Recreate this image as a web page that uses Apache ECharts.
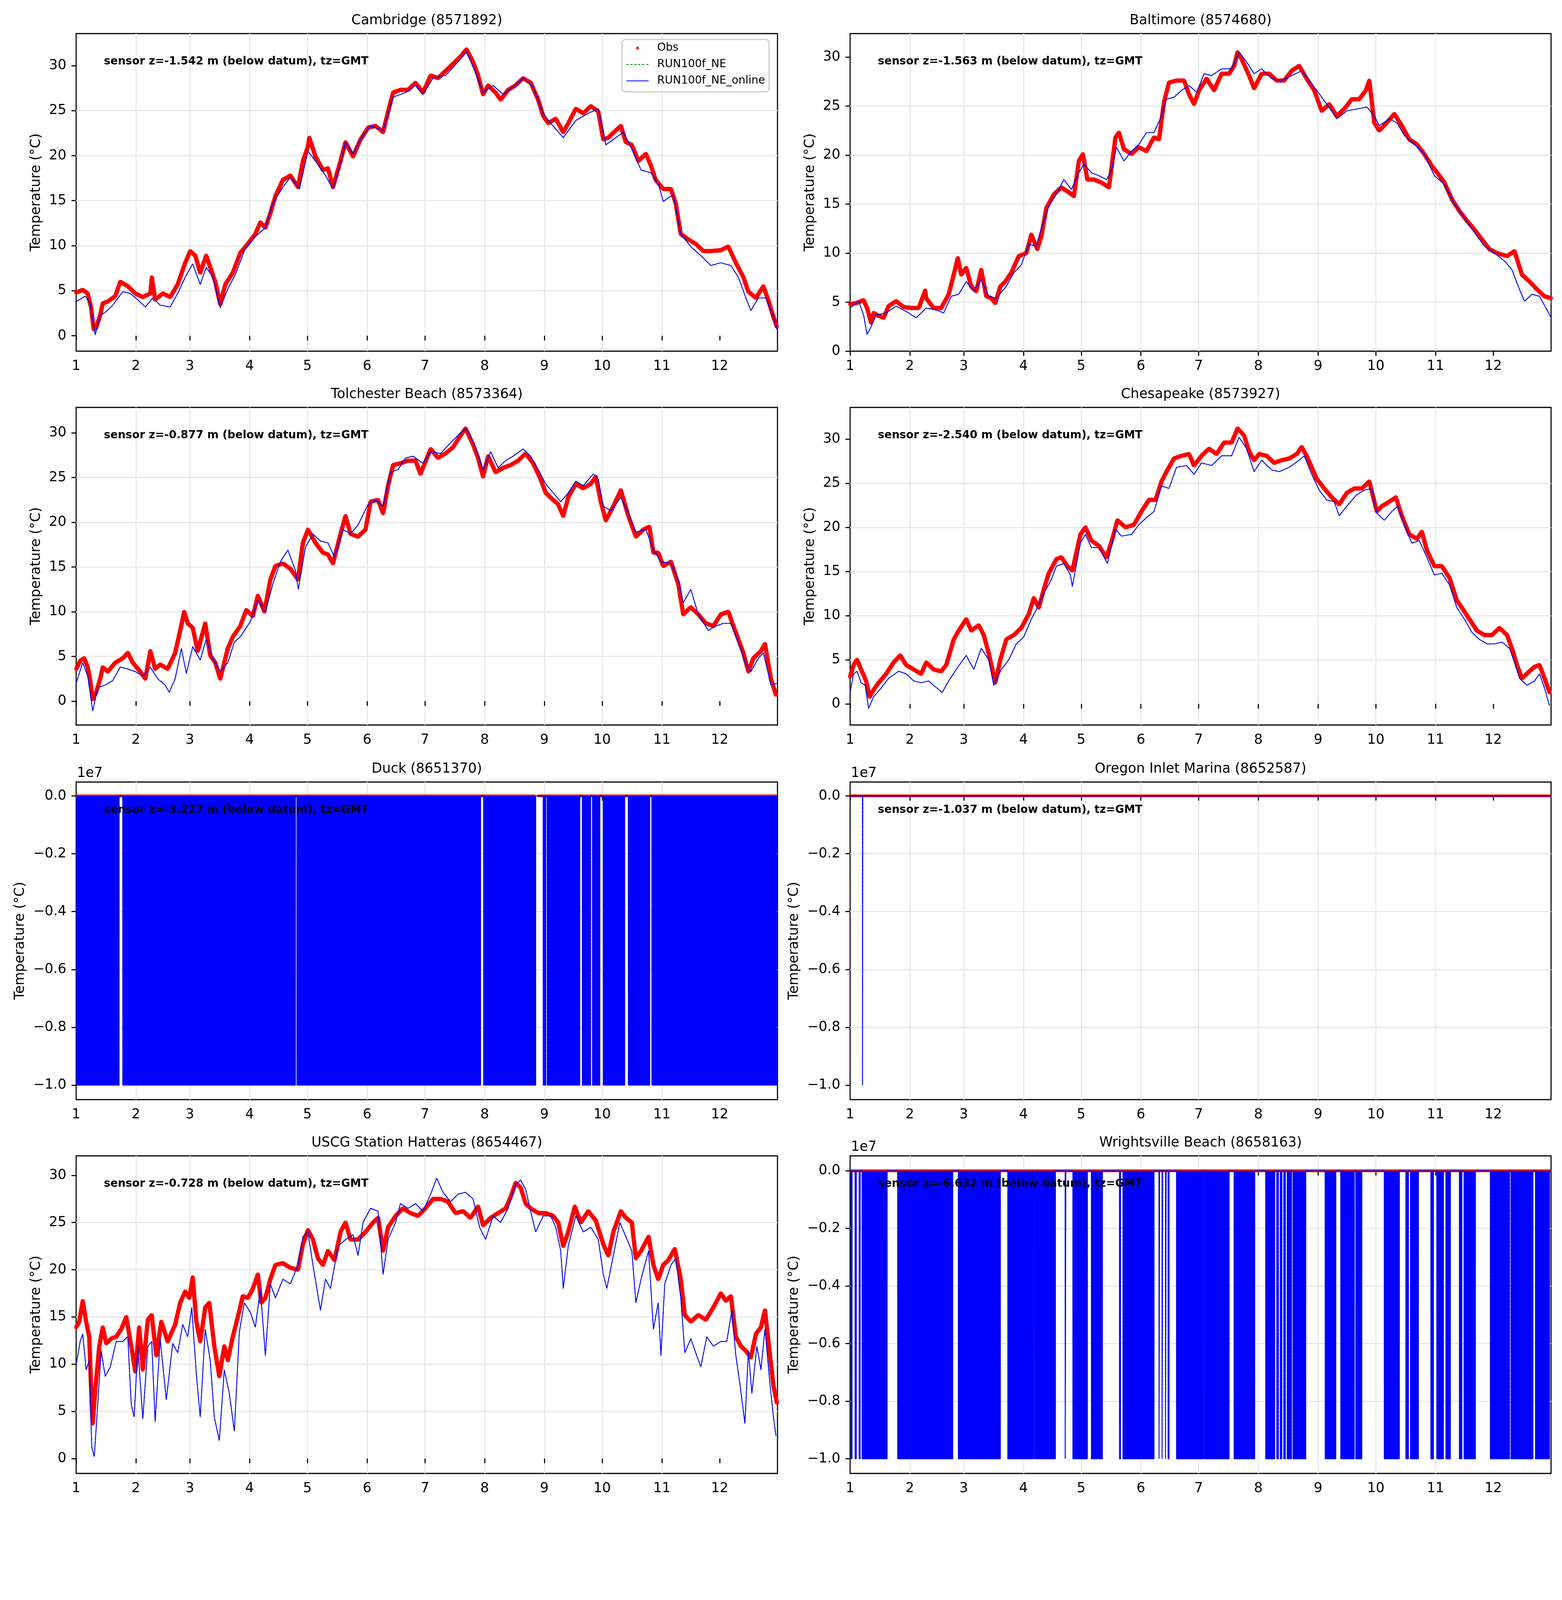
<!DOCTYPE html>
<html>
<head>
<meta charset="utf-8">
<script src="https://cdn.jsdelivr.net/npm/echarts@6.0.0/dist/echarts.min.js"></script>
<style>
html,body{margin:0;padding:0;background:#ffffff;}
#chart{width:4000px;height:5000px;}
</style>
</head>
<body>
<div id="chart"></div>
<script>
// ---------- axis ticks ----------
const monthStartDays = [0, 31, 59, 90, 120, 151, 181, 212, 243, 273, 304, 334];
const monthTickLabels = ['1','2','3','4','5','6','7','8','9','10','11','12'];
const tempTicks = [0, 5, 10, 15, 20, 25, 30];
const fillTicks = [-1e7, -0.8e7, -0.6e7, -0.4e7, -0.2e7, 0];
const FILL_VALUE = -1e7;
const seriesNames = ['Obs', 'RUN100f_NE', 'RUN100f_NE_online'];

// ---------- data: [day of 2017, temperature °C] ----------
const cambridgeObs = [[0,4.8],[3.4,5.1],[6,4.7],[7.8,3.1],[9.1,0.7],[10.4,0.9],[12.5,2.3],[13.8,3.6],[16.4,3.8],[20.3,4.4],[22.9,6.0],[26.8,5.5],[30.7,4.7],[34.6,4.3],[38.5,4.7],[39.3,6.5],[41,4.0],[45,4.7],[48.8,4.3],[52.7,5.7],[56.6,8.1],[59.2,9.4],[61.8,8.9],[64.4,7.0],[67.5,8.9],[69.6,7.6],[72.2,6.0],[74.8,3.5],[77.4,5.7],[81.3,7.0],[85.2,9.2],[89.1,10.2],[93,11.3],[95.6,12.6],[98.2,12.0],[100.8,13.6],[103.4,15.5],[107.3,17.3],[111.2,17.8],[115.1,16.5],[117.7,19.4],[120.3,21.0],[121,22.0],[124.2,19.9],[128.1,18.4],[130.7,18.6],[133.3,16.5],[137.2,19.4],[139.8,21.5],[143.7,19.9],[147.6,21.8],[151.5,23.1],[155.4,23.3],[159.3,22.6],[161.9,24.9],[164.5,27.0],[168.3,27.3],[172.3,27.3],[176.1,28.1],[180,27.0],[184,28.9],[187.8,28.6],[191.7,29.4],[195.6,30.2],[199.5,31.0],[202.6,31.8],[206,30.4],[208.6,28.9],[211.2,26.8],[213.8,27.8],[217.7,27.0],[220.3,26.2],[224.2,27.3],[228,27.8],[232,28.6],[235.9,28.1],[239.8,26.2],[242.4,24.4],[245,23.6],[248.9,24.1],[252.8,22.6],[255.4,23.6],[259.3,25.2],[263.2,24.7],[267.1,25.5],[271,24.9],[273.6,21.8],[276.2,22.0],[280.1,22.8],[282.7,23.3],[285.3,21.5],[288.4,21.2],[291.8,19.4],[295.7,20.2],[298.3,18.9],[300.8,17.3],[304.7,16.3],[308.7,16.3],[311.2,14.7],[313.8,11.3],[317.7,10.7],[321.6,10.2],[325.5,9.4],[329.4,9.4],[334.6,9.5],[338.5,9.9],[342.4,8.1],[346.3,6.5],[348.9,4.9],[352.8,4.2],[356.7,5.5],[359.3,3.9],[361.9,2.1],[363.7,1.0]];
const cambridgeModel = [[0,3.8],[4.7,4.4],[7.3,3.6],[9.9,0.1],[12.5,2.3],[15.1,2.6],[19,3.4],[24.2,4.9],[28,4.7],[32,4.0],[35.9,3.2],[39.8,4.2],[43.6,3.4],[48.8,3.2],[52.7,4.7],[56.6,6.5],[60.5,8.0],[64.4,5.7],[67.5,7.6],[70.9,6.5],[74.8,3.1],[78.7,5.2],[82.6,6.8],[87.8,9.7],[93,11.0],[98.2,12.0],[102.1,14.7],[107.3,16.5],[111.2,17.6],[115.9,16.3],[120.3,20.5],[124.2,19.4],[129.4,17.8],[133.3,16.3],[137.2,19.1],[139.8,21.5],[143.7,20.2],[147.6,21.8],[152.8,23.3],[159.3,22.8],[164.5,26.5],[171,27.0],[176.1,27.8],[180,26.8],[185.2,28.6],[191.7,28.9],[198.2,30.4],[202.6,31.5],[207.3,29.2],[211.2,27.0],[216.4,27.8],[221.6,26.8],[226.8,27.6],[232,28.6],[237.2,27.6],[242.4,24.7],[246.3,23.6],[252.8,22.0],[259.3,23.9],[265.8,24.7],[271,25.2],[274.9,21.2],[280.1,22.0],[284,22.6],[287.9,21.0],[293.2,18.4],[298.3,18.1],[302.3,16.8],[304.7,14.9],[309.9,15.7],[313.8,11.3],[319,9.9],[324.2,8.9],[329.4,7.8],[334.6,8.1],[339.8,7.8],[343.7,6.5],[347.6,4.2],[350.2,2.8],[354.1,4.2],[358,4.2],[361.9,2.1],[363.7,0.7]];

const baltimoreObs = [[0,4.8],[3.1,4.9],[7,5.2],[8.8,4.4],[10.9,2.9],[12.2,3.9],[14.8,3.6],[17.4,3.4],[20,4.6],[23.9,5.1],[27.8,4.5],[31.7,4.4],[35.6,4.4],[39,6.2],[39.5,5.4],[43.4,4.4],[47.3,4.4],[51.2,5.8],[53.8,7.8],[55.9,9.5],[57.7,7.8],[60.3,8.5],[62.9,6.6],[65.5,6.1],[68.1,8.3],[70.7,5.6],[73.3,5.4],[75.4,4.9],[78,6.6],[80.6,7.1],[83.7,8.0],[87.6,9.7],[91.5,10.0],[94.1,11.9],[97.2,10.4],[99.3,11.7],[101.9,14.6],[105.8,16.0],[109.7,16.7],[113.6,16.2],[116.2,15.8],[118.8,19.4],[120.9,20.1],[123.2,17.5],[126.6,17.5],[130.5,17.2],[134.4,16.7],[137.8,21.8],[139.6,22.3],[142.2,20.6],[146.1,20.1],[150,20.8],[153.9,20.4],[157.8,21.8],[160.4,21.6],[163,25.4],[165.6,27.4],[169.5,27.6],[173.4,27.6],[176,26.2],[178.6,25.2],[181.2,26.6],[185.1,27.8],[189,26.6],[192.9,28.3],[196.8,28.3],[199.4,29.1],[201.2,30.5],[203.3,29.8],[207.2,28.1],[209.8,26.8],[213.7,28.3],[217.6,28.3],[221.5,27.6],[225.4,27.6],[229.3,28.6],[233.2,29.1],[237.1,27.8],[241,26.6],[244.9,24.5],[248.8,25.2],[252.7,24.0],[256.6,24.7],[260.5,25.7],[264.4,25.7],[267.8,26.6],[269.6,27.6],[272.2,23.3],[274.8,22.5],[278.7,23.3],[282.6,24.2],[286.5,23.0],[290.4,21.6],[294.3,21.1],[298.2,20.1],[302.1,18.9],[306,17.9],[308.6,17.2],[312.5,15.5],[316.4,14.3],[320.3,13.3],[324.2,12.4],[328.1,11.4],[332,10.4],[335.9,10.0],[341.1,9.7],[345,10.2],[348.9,7.8],[352.8,7.1],[356.7,6.3],[360.6,5.6],[364,5.4]];
const baltimoreModel = [[0,4.4],[4.4,5.1],[7,3.7],[8.8,1.7],[10.9,2.5],[13.5,3.7],[18.7,3.9],[23.9,4.6],[30.4,3.9],[34.3,3.4],[39.5,4.4],[44.7,4.2],[48.6,3.9],[52.5,5.6],[56.4,5.8],[60.3,7.1],[64.2,6.1],[68.1,7.3],[72,5.6],[75.9,5.4],[81.1,6.6],[85,8.0],[88.9,8.8],[92.8,10.9],[96.7,10.7],[99.3,12.6],[103.2,14.8],[107.1,16.0],[111,17.5],[114.9,16.5],[118.8,18.2],[121.4,19.1],[125.3,18.2],[129.2,17.9],[133.1,17.5],[135.7,18.4],[138.3,20.8],[142.2,19.4],[146.1,20.4],[150,21.1],[153.9,22.3],[157.8,22.3],[161.7,24.0],[164.3,25.7],[168.2,25.9],[172.1,26.6],[176,27.1],[180,26.4],[183.8,28.3],[187.7,28.1],[192.9,28.8],[198.1,28.8],[202,30.5],[205.9,29.5],[209.8,28.3],[213.7,28.8],[218.9,27.8],[224.1,27.6],[229.3,28.1],[234.5,28.6],[238.4,27.6],[242.3,26.6],[247.5,25.2],[252.7,23.7],[257.9,24.5],[263.1,24.7],[268.3,24.9],[272.2,24.0],[274.8,23.0],[280,23.7],[283.9,23.3],[287.8,22.0],[293,21.1],[298.2,20.1],[303.4,17.9],[308.6,17.0],[313.8,15.0],[319,13.6],[324.2,12.1],[329.4,10.7],[334.6,10.0],[339.8,9.2],[343.7,8.3],[347.6,6.3],[350.2,5.1],[354.1,5.8],[358,5.6],[361.9,4.2],[364,3.4]];

const tolchesterObs = [[0,3.6],[2.1,4.5],[4.2,4.8],[6,3.8],[7.3,2.3],[8.6,0.2],[10.4,1.0],[12.5,2.5],[13.8,3.8],[16.4,3.3],[20.3,4.3],[24.2,4.8],[26.8,5.4],[29.4,4.3],[33.3,3.3],[35.9,2.5],[38.5,5.6],[41,3.6],[43.6,4.1],[47.5,3.6],[51.4,5.4],[54,7.9],[56.1,10.0],[57.9,8.7],[60.5,8.2],[63.1,5.6],[67,8.7],[69.6,5.1],[72.2,4.3],[74.8,2.5],[78.7,5.9],[81.3,7.2],[85.2,8.4],[88.3,10.2],[91.7,9.5],[94.3,11.8],[97.7,10.0],[100.8,13.6],[103.4,15.1],[107.3,15.4],[111.2,14.8],[115.1,13.6],[117.7,17.7],[120.3,19.2],[124.2,17.7],[128.1,16.6],[130.7,16.4],[133.3,15.4],[137.2,18.7],[139.8,20.7],[142.4,18.7],[146.3,18.4],[150.2,19.2],[152.8,22.3],[156.7,22.5],[159.3,21.0],[161.9,24.1],[164.5,26.4],[168.3,26.6],[172.3,26.9],[176.1,26.9],[178.7,25.4],[184,28.2],[187.8,27.2],[191.7,27.7],[195.6,28.4],[199.5,29.7],[202.1,30.5],[206,28.7],[208.6,27.2],[211.2,25.1],[213.8,27.4],[217.7,25.6],[221.6,26.1],[225.5,26.4],[229.4,26.9],[233.3,27.7],[237.2,26.6],[241.1,24.8],[243.7,23.3],[247.6,22.5],[250.2,22.0],[252.8,20.7],[255.4,22.8],[259.3,24.3],[263.2,23.8],[267.1,24.3],[269.7,25.1],[272.3,22.3],[274.9,20.2],[278.8,21.8],[282.7,23.6],[286.6,20.7],[290.5,18.4],[294.4,19.2],[297.5,19.5],[299.6,16.6],[302.1,16.6],[304.7,15.1],[308.7,15.6],[312.5,13.1],[315.1,9.7],[319,10.5],[322.9,9.7],[326.8,8.7],[330.7,8.4],[334.6,9.7],[338.5,10.0],[341.1,8.4],[343.7,6.9],[346.3,5.4],[348.9,3.3],[351.5,4.8],[355.4,5.6],[357.5,6.4],[360.6,2.5],[363.2,0.7]];
const tolchesterModel = [[0,2.0],[3.4,4.3],[6,2.8],[8.6,-1.1],[11.2,1.5],[15.1,1.8],[19,2.3],[22.9,3.8],[26.8,3.6],[30.7,3.3],[34.6,2.8],[38.5,3.8],[42.3,2.5],[46.2,1.8],[48.3,1.0],[51.4,2.5],[54.6,5.9],[57.2,3.1],[60.5,6.1],[64.4,4.6],[67.5,6.9],[70.9,4.8],[74.8,3.3],[78.7,4.3],[82.1,6.6],[85.2,7.2],[90.4,8.9],[94.3,11.3],[98.2,10.0],[102.1,13.1],[106,15.6],[109.9,16.9],[113.8,14.6],[115.3,12.5],[119,17.2],[122.9,18.7],[126.8,17.9],[130.7,17.7],[134.1,16.1],[138.5,19.2],[142.4,18.7],[146.3,19.7],[151.5,22.0],[155.4,22.5],[159.3,21.8],[163.2,25.6],[167.1,25.9],[171,27.2],[174.8,27.4],[180,26.6],[184,27.9],[189.1,27.7],[194.3,28.9],[199.5,30.0],[202.6,30.5],[207.3,28.4],[211.2,25.9],[215.1,27.9],[219,26.1],[222.9,26.9],[226.8,27.4],[232,28.2],[235.9,27.4],[239.8,25.9],[243.7,24.3],[247.6,23.3],[251.5,22.3],[255.4,23.3],[259.3,24.6],[263.2,24.1],[268.4,25.4],[271,24.8],[273.6,21.8],[277.5,21.3],[282.7,22.8],[286.6,21.0],[290.5,18.9],[295.7,19.2],[299.6,16.9],[303.5,15.6],[308.7,15.4],[312.5,13.6],[315.1,11.0],[319,12.5],[322.9,9.7],[328.1,7.9],[332,8.4],[335.9,8.7],[339.8,8.7],[343.7,6.6],[347.6,4.1],[350.2,3.3],[354.1,4.8],[356.7,5.4],[360.6,1.8],[363.7,2.0]];

const chesapeakeObs = [[0,3.1],[1.8,4.4],[3.6,5.0],[5.7,3.9],[8.3,2.6],[10.1,0.8],[12.2,1.6],[14.8,2.4],[18.7,3.4],[22.6,4.7],[26,5.5],[29.1,4.4],[33,3.9],[36.9,3.4],[39.5,4.7],[43.4,3.9],[47.3,3.7],[49.9,4.4],[53.8,7.3],[56.4,8.3],[60.3,9.6],[62.9,8.3],[66.8,8.9],[69.4,7.8],[72,5.7],[75.4,2.4],[78,5.0],[81.1,7.3],[85,7.8],[88.9,8.6],[92.8,10.2],[95.4,12.0],[98,10.9],[100.6,13.0],[103.2,14.8],[107.1,16.4],[109.7,16.6],[112.8,15.6],[115.4,15.1],[119.6,19.2],[122.2,20.0],[125.3,18.5],[129.2,17.9],[133.1,16.6],[136.2,18.7],[138.8,20.8],[143,20.0],[147.4,20.3],[151.3,21.8],[155.2,23.1],[158.6,23.1],[161.7,25.2],[164.3,26.3],[168.2,27.8],[172.1,28.1],[176,28.3],[178.6,27.0],[182.5,28.1],[186.4,28.9],[190.3,28.3],[194.2,29.6],[198.1,29.6],[201.2,31.2],[204.6,30.4],[207.2,28.6],[209.8,27.6],[212.4,28.3],[216.3,28.1],[220.2,27.3],[224.1,27.6],[228,27.8],[231.9,28.3],[234.5,29.1],[237.1,28.1],[239.7,26.8],[242.3,25.5],[246.2,24.4],[250.1,23.4],[254,22.6],[257.9,23.9],[261.8,24.4],[265.7,24.4],[269.6,25.2],[273.5,21.8],[276.1,22.4],[280,22.9],[283.4,23.4],[286.5,21.3],[290.4,19.2],[294.3,18.7],[296.9,19.5],[299.5,17.4],[303.4,15.6],[307.3,15.6],[311.2,14.3],[315.1,11.7],[317.7,10.9],[321.6,9.6],[325.5,8.3],[329.4,7.8],[333.3,7.8],[337.2,8.6],[341.1,7.8],[343.7,6.3],[346.3,4.4],[348.9,2.9],[352.8,3.7],[355.4,4.2],[358,4.4],[360.6,2.9],[363.2,1.3]];
const chesapeakeModel = [[0,1.3],[1.8,3.4],[3.6,3.7],[5.7,2.4],[7.8,2.1],[9.6,-0.5],[12.2,0.8],[16.1,1.8],[20,2.9],[25.2,3.7],[29.1,3.4],[33,2.6],[36.9,2.4],[40.8,2.6],[43.4,2.1],[47.8,1.3],[51.2,2.6],[55.1,3.9],[60.3,5.5],[64.2,3.9],[68.1,6.3],[72,5.0],[74.6,2.1],[78.5,3.9],[82.4,5.0],[86.3,6.8],[90.2,7.6],[94.1,9.6],[96.7,10.7],[100.6,12.5],[104.5,14.1],[107.1,15.6],[111,15.9],[114.4,14.6],[115.4,13.3],[119.6,18.2],[122.2,19.2],[125.3,17.7],[129.2,17.7],[133.6,15.9],[137.8,19.8],[140.9,19.0],[146.1,19.2],[150,20.3],[153.9,21.1],[157.8,21.8],[161.7,24.7],[165.6,24.4],[169.5,26.8],[174.7,27.0],[178.6,26.0],[182.5,27.3],[187.7,27.0],[192.9,28.1],[198.1,28.1],[202,30.2],[205.9,28.9],[209.8,26.3],[213.7,27.6],[218.9,26.5],[222.8,26.3],[228,26.8],[233.2,27.6],[235.8,28.1],[239.7,26.0],[243.6,24.2],[247.5,23.1],[251.4,22.9],[254,21.3],[257.9,22.4],[263.1,23.7],[267,24.2],[270.9,24.4],[273.5,21.6],[277.4,20.8],[281.3,21.8],[284.4,22.4],[287.8,20.3],[291.7,18.2],[295.6,18.5],[299.5,16.6],[303.4,14.6],[307.3,14.8],[311.2,13.5],[315.1,10.9],[319,9.6],[322.9,8.1],[326.8,7.3],[330.7,6.8],[334.6,6.8],[338.5,7.0],[342.4,6.3],[345,4.7],[347.6,2.9],[351.5,2.1],[355.4,2.6],[358,3.4],[360.6,1.8],[363.2,-0.2]];

const hatterasObs = [[0,13.9],[1.6,14.5],[3.4,16.7],[5.2,14.5],[6.8,12.9],[8.1,5.7],[8.6,3.7],[9.9,7.2],[12,11.9],[13.8,13.9],[15.6,12.2],[18.2,12.7],[20.8,12.9],[23.4,13.7],[26,15.0],[28.6,11.9],[30.7,9.2],[32.7,13.9],[34.6,9.4],[37.2,14.7],[39.2,15.2],[41.6,10.9],[44.2,14.5],[47.5,12.4],[51.4,14.2],[54,16.5],[56.6,17.7],[58.7,17.0],[60.5,19.2],[62.4,14.5],[64.4,12.4],[67,16.0],[69.1,16.5],[71.7,11.9],[74.3,8.7],[76.9,11.9],[78.7,10.4],[81.3,12.9],[83.9,15.0],[86.5,17.2],[89.1,17.0],[91.7,18.0],[94.3,19.5],[96.1,16.5],[98.2,17.0],[100.8,19.0],[103.4,20.5],[107.3,20.7],[111.2,20.2],[115.1,20.0],[117.7,22.7],[120.3,24.2],[122.9,23.2],[125.5,21.2],[128.1,20.5],[130.7,22.0],[134.1,21.0],[137.2,24.0],[139.8,25.0],[142.4,23.2],[146.3,23.2],[150.2,24.0],[154.1,25.0],[156.7,25.5],[159.3,22.0],[161.9,24.5],[165.8,25.7],[169.6,26.5],[173.5,26.0],[177.4,25.7],[181.3,26.5],[185.2,27.5],[189.1,27.5],[193,27.2],[196.9,26.0],[200.8,26.2],[204.7,25.5],[208.6,26.7],[211.2,24.7],[215.1,25.5],[219,26.0],[222.9,26.5],[225.5,27.7],[228.1,29.2],[230.7,28.7],[233.3,27.0],[235.9,26.5],[239.8,26.0],[243.7,26.0],[247.6,25.7],[250.2,25.0],[252.8,22.5],[255.4,24.0],[258.8,26.7],[261.9,25.0],[265.8,26.2],[269.7,25.2],[273.6,22.7],[276.2,21.5],[278.8,24.0],[282.7,26.2],[285.3,25.5],[288.4,25.0],[290.5,21.2],[293.2,22.0],[297.1,23.5],[299.6,20.5],[302.1,19.0],[304.7,20.5],[307.3,21.0],[310.7,22.2],[313.8,19.0],[315.9,15.2],[319,14.5],[322.9,15.2],[326.8,14.7],[330.7,16.0],[334.6,17.5],[337.2,16.7],[339.8,17.2],[342.4,12.9],[345,11.9],[347.6,11.4],[350.2,10.7],[352.8,13.2],[355.4,13.9],[357.5,15.7],[359.3,12.4],[361.9,7.7],[363.7,5.9]];
const hatterasModel = [[0,9.9],[2.1,12.4],[3.4,13.2],[5.2,9.4],[6.8,10.4],[8.1,1.2],[9.4,0.2],[11.2,5.7],[13,11.4],[15.1,8.7],[17.7,9.7],[20.8,12.4],[24.2,12.4],[26.8,12.9],[28.6,5.7],[30.1,4.4],[32,11.9],[34.6,4.2],[37.2,11.9],[39.2,12.4],[41,3.9],[43.6,12.7],[46.8,6.2],[50.1,12.2],[52.7,11.2],[55.3,14.2],[57.9,12.9],[60,16.0],[62.4,8.9],[64.4,4.4],[67,13.7],[69.6,10.4],[71.7,4.4],[74.3,1.9],[76.9,9.4],[79.5,6.9],[82.1,2.9],[84.7,13.4],[87.3,16.5],[90.4,15.5],[93,13.9],[95.6,18.0],[98.2,10.9],[100.8,18.5],[103.4,17.0],[107.3,19.0],[111.2,18.5],[115.1,20.5],[117.7,23.5],[120.3,24.0],[122.9,20.5],[126.8,15.7],[129.4,19.0],[132,18.0],[135.9,22.5],[139.8,23.2],[143.7,23.7],[146.3,21.5],[148.9,25.0],[152.8,26.5],[156.7,26.2],[159.3,19.5],[161.9,23.2],[165.8,25.0],[168.3,27.0],[172.3,26.5],[176.1,27.0],[180,26.2],[184,28.0],[187.1,29.7],[190.4,28.2],[194.3,27.2],[198.2,28.0],[202.1,28.2],[206,27.5],[209.4,24.5],[212.5,23.2],[216.4,25.7],[220.3,25.0],[224.2,26.5],[228.1,29.0],[230.7,29.5],[233.3,28.5],[235.9,26.2],[238.5,24.0],[242.4,25.7],[246.3,25.7],[248.9,24.5],[251.5,22.0],[252.8,18.0],[255.4,22.5],[259.3,25.7],[263.2,24.0],[267.1,24.5],[271,23.2],[273.6,19.5],[275.4,18.0],[278.8,21.5],[282.2,25.0],[285.3,23.5],[288.4,22.0],[290.5,16.5],[293.2,19.0],[297.1,22.0],[299.6,13.7],[302.1,16.5],[303.5,10.9],[305.5,18.5],[308.7,20.5],[311.2,21.2],[313.8,17.0],[315.9,11.2],[319,12.7],[322.1,10.9],[324.2,9.7],[327.3,12.9],[330.7,11.9],[334.6,12.4],[337.7,12.4],[340.3,15.7],[342.4,10.9],[344.5,7.9],[347.1,3.7],[348.9,11.4],[350.7,6.9],[353.3,11.9],[355.4,9.4],[357.5,13.7],[360.1,7.9],[361.9,4.4],[363.2,2.4]];

// Panels whose model output holds the -1e7 fill value: [start day, end day] of each fill run
const duckFillSpans = [[0,22.3],[24.2,113.8],[114.6,209.9],[211.5,238.5],[242.4,243.7],[244.5,261.4],[262.7,267.0],[268.0,271.8],[273.6,284.7],[286.6,297.7],[298.8,363.5]];
const oregonFillSpans = [[6.45,6.55]];
const wrightsvilleFillSpans = [[0.5,1.0],[2.6,3.2],[4.7,5.2],[6.2,19.2],[24.7,53.3],[56.2,78.0],[81.9,95.4],[95.9,106.6],[111.7,112.0],[115.7,123.2],[125.3,131.0],[139.9,140.4],[141.7,143.3],[143.5,157.8],[160.4,160.7],[162.0,162.3],[163.8,164.1],[165.1,165.6],[169.5,183.6],[184.1,196.8],[199.4,210.1],[215.8,220.5],[221.6,222.4],[223.4,224.2],[225.2,226.0],[227.0,229.2],[230.0,236.6],[246.7,252.2],[254.8,261.8],[262.6,265.7],[277.4,285.2],[288.6,289.9],[291.0,295.1],[301.6,302.9],[304.7,308.1],[309.4,311.7],[316.4,317.7],[318.8,324.7],[332.5,342.4],[343.2,354.6],[355.9,363.2]];
// model value outside the fill runs (°C, collapses onto 0 at 1e7 scale)
const fillPanelModelLevel = 20;
const duckObs = [[0,7.5],[31,6.5],[59,8],[90,12],[120,17],[151,21],[181,25],[212,27],[238.4,26],['238.9','-'],[239.5,26],[243,26],[273,23],[304,18],[334,13],[364,9]];
const oregonObs = [[0,8],[31,7],[59,9],[90,13],[120,18],[151,22],[181,27],[212,28],[243,27],[273,24],[304,19],[334,13],[364,8]];
const wrightsvilleObs = [[0,12],[31,12],[59,15],[90,18],[120,22],[151,25],[181,28],[212,29],[243,28],[273,25],[304,20],[334,15],[364,11]];

// ---------- panels ----------
const panels = [
  {title:'Cambridge (8571892)', sensor:'sensor z=-1.542 m (below datum), tz=GMT', kind:'temp', obs:cambridgeObs, model:cambridgeModel, yMin:-1.71, yMax:33.55},
  {title:'Baltimore (8574680)', sensor:'sensor z=-1.563 m (below datum), tz=GMT', kind:'temp', obs:baltimoreObs, model:baltimoreModel, yMin:0, yMax:32.39},
  {title:'Tolchester Beach (8573364)', sensor:'sensor z=-0.877 m (below datum), tz=GMT', kind:'temp', obs:tolchesterObs, model:tolchesterModel, yMin:-2.67, yMax:32.85},
  {title:'Chesapeake (8573927)', sensor:'sensor z=-2.540 m (below datum), tz=GMT', kind:'temp', obs:chesapeakeObs, model:chesapeakeModel, yMin:-2.39, yMax:33.58},
  {title:'Duck (8651370)', sensor:'sensor z=-3.227 m (below datum), tz=GMT', kind:'fill', obs:duckObs, spans:duckFillSpans, yMin:-1.05e7, yMax:0.048e7},
  {title:'Oregon Inlet Marina (8652587)', sensor:'sensor z=-1.037 m (below datum), tz=GMT', kind:'fill', obs:oregonObs, spans:oregonFillSpans, yMin:-1.05e7, yMax:0.048e7},
  {title:'USCG Station Hatteras (8654467)', sensor:'sensor z=-0.728 m (below datum), tz=GMT', kind:'temp', obs:hatterasObs, model:hatterasModel, yMin:-1.58, yMax:32.06},
  {title:'Wrightsville Beach (8658163)', sensor:'sensor z=-6.632 m (below datum), tz=GMT', kind:'fill', obs:wrightsvilleObs, spans:wrightsvilleFillSpans, yMin:-1.051e7, yMax:0.052e7}
];

// ---------- layout ----------
const FONT = 'DejaVu Sans';
const colLeft = [195, 2177];
const colWidth = [1796, 1795];
const rowTop = [86, 1043, 2002, 2959];
const plotH = 813;

function buildFillModel(spans, level) {
  const out = [];
  if (spans[0][0] > 0) out.push([0, level]);
  spans.forEach(function (sp) {
    if (sp[0] > 0) out.push([sp[0] - 0.02, level]);
    out.push([sp[0], FILL_VALUE]);
    out.push([sp[1], FILL_VALUE]);
    out.push([sp[1] + 0.02, level]);
  });
  out.push([364, level]);
  return out;
}

function fmtFill(v) {
  const s = (Math.abs(v) / 1e7).toFixed(1);
  return v < 0 ? '\u2212' + s : s;
}

const grids = [], xAxes = [], yAxes = [], series = [], graphics = [];
panels.forEach(function (p, i) {
  const col = i % 2, row = Math.floor(i / 2);
  const left = colLeft[col], top = rowTop[row], w = colWidth[col];
  grids.push({left: left, top: top, width: w, height: plotH, show: true, borderColor: '#000', borderWidth: 2.8, backgroundColor: 'rgba(0,0,0,0)', containLabel: false});
  xAxes.push({
    type: 'value', gridIndex: i, min: 0, max: 364,
    axisLine: {show: false},
    axisTick: {show: true, inside: false, length: 12, lineStyle: {color: '#000', width: 2.8}, customValues: monthStartDays},
    axisLabel: {show: true, customValues: monthStartDays, margin: 21, fontSize: 35, fontFamily: FONT, color: '#000',
      formatter: function (v) { const k = monthStartDays.indexOf(Math.round(v)); return k >= 0 ? monthTickLabels[k] : ''; }},
    splitLine: {show: true, showMinLine: false, showMaxLine: false, lineStyle: {color: '#e8e8e8', width: 2.8}}
  });
  const isFill = p.kind === 'fill';
  const yt = isFill ? fillTicks : tempTicks;
  yAxes.push({
    type: 'value', gridIndex: i, min: p.yMin, max: p.yMax,
    name: 'Temperature (\u00b0C)', nameLocation: 'middle', nameGap: isFill ? 126 : 85,
    nameTextStyle: {fontSize: 35, fontFamily: FONT, color: '#000'},
    axisLine: {show: false},
    axisTick: {show: true, inside: false, length: 12, lineStyle: {color: '#000', width: 2.8}, customValues: yt},
    axisLabel: {show: true, customValues: yt, margin: 25, fontSize: 35, fontFamily: FONT, color: '#000',
      formatter: isFill ? fmtFill : function (v) { return String(Math.round(v)); }},
    splitLine: {show: true, showMinLine: false, showMaxLine: false, lineStyle: {color: '#e8e8e8', width: 2.8}}
  });
  const modelData = isFill ? buildFillModel(p.spans, fillPanelModelLevel) : p.model;
  series.push({
    name: seriesNames[0], type: 'line', xAxisIndex: i, yAxisIndex: i, data: p.obs,
    lineStyle: {color: '#ff0000', width: isFill ? 7 : 11}, itemStyle: {color: '#ff0000'},
    symbol: isFill ? 'none' : 'circle', symbolSize: 10, showSymbol: !isFill, connectNulls: false,
    animation: false, z: 2
  });
  series.push({
    name: seriesNames[1], type: 'line', xAxisIndex: i, yAxisIndex: i, data: modelData,
    lineStyle: {color: '#008000', width: 2, type: [6, 4]}, itemStyle: {color: '#008000'},
    symbol: 'none', animation: false, z: 3
  });
  const blue = {
    name: seriesNames[2], type: 'line', xAxisIndex: i, yAxisIndex: i, data: modelData,
    lineStyle: {color: '#0000ff', width: 2.2}, itemStyle: {color: '#0000ff'},
    symbol: 'none', animation: false, z: 4
  };
  if (isFill) blue.areaStyle = {color: '#0000ff', opacity: 1, origin: 'auto'};
  series.push(blue);

  graphics.push({type: 'text', x: left + w / 2, y: top - 33, z: 100,
    style: {text: p.title, fontSize: 35, fontFamily: FONT, fill: '#000', align: 'center', verticalAlign: 'middle'}});
  graphics.push({type: 'text', x: left + 71, y: top + 72, z: 100,
    style: {text: p.sensor, fontSize: 28, fontWeight: 'bold', fontFamily: FONT, fill: '#000', align: 'left', verticalAlign: 'middle'}});
  if (isFill) {
    graphics.push({type: 'text', x: left + 2, y: top - 22, z: 100,
      style: {text: '1e7', fontSize: 35, fontFamily: FONT, fill: '#000', align: 'left', verticalAlign: 'middle'}});
  }
});
graphics.push({type: 'text', x: 2000, y: 4944, z: 100,
  style: {text: 'Month of 2017', fontSize: 42, fontFamily: FONT, fill: '#000', align: 'center', verticalAlign: 'middle'}});

// legend line icons (thin solid / dashed strokes, aspect kept)
const solidIcon = 'path://M0,0L57,0L57,2.2L0,2.2Z';
const dashedIcon = 'path://M0,0h6v2h-6z M10,0h6v2h-6z M20,0h6v2h-6z M30,0h6v2h-6z M40,0h6v2h-6z M51,0h6v2h-6z';

const chart = echarts.init(document.getElementById('chart'), null, {renderer: 'canvas', width: 4000, height: 5000});
chart.setOption({
  backgroundColor: '#ffffff',
  animation: false,
  grid: grids,
  xAxis: xAxes,
  yAxis: yAxes,
  series: series,
  graphic: graphics,
  legend: {
    show: true, orient: 'vertical', left: 1593, top: 101,
    itemWidth: 57, itemHeight: 7, itemGap: 14,
    padding: [8, 10, 14, 11],
    borderColor: '#cccccc', borderWidth: 3, borderRadius: 8,
    backgroundColor: 'rgba(255,255,255,0.8)',
    symbolKeepAspect: true,
    textStyle: {fontSize: 28, fontFamily: FONT, color: '#000', padding: [0, 0, 0, 17]},
    selectedMode: false,
    data: [{name: 'Obs', icon: 'circle'}, {name: 'RUN100f_NE', icon: dashedIcon}, {name: 'RUN100f_NE_online', icon: solidIcon}]
  }
});
</script>
</body>
</html>
